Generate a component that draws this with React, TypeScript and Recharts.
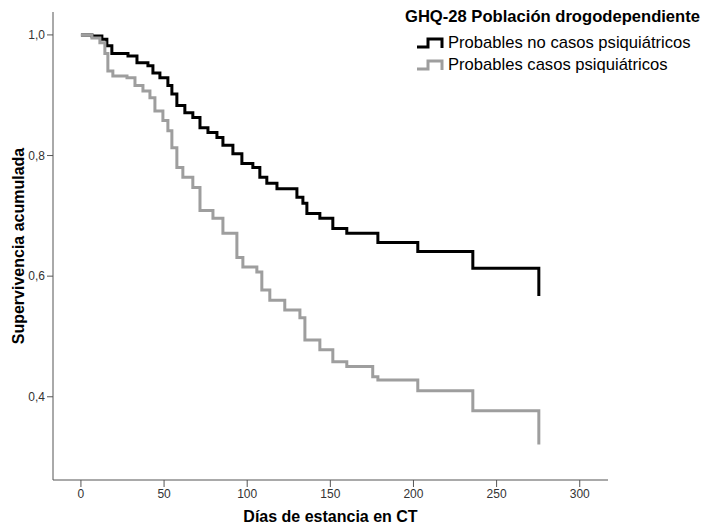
import { LineChart, Line, XAxis, YAxis, Legend } from "recharts";

// Días y supervivencia acumulada (Kaplan-Meier)
const noCasosDias = [0, 6.6, 12.6, 15.6, 18.6, 28.3, 33.7, 40.3, 43.3, 47.5, 52.3, 54.7, 57.7, 62.5, 67.3, 71.6, 76.4, 81.8, 85.4, 91.4, 96.8, 103.4, 107.6, 111.8, 117.9, 129.9, 133.5, 135.9, 143.7, 151.5, 159.9, 178.6, 202.6, 235.7, 275.4];
const noCasosSurv = [1.0, 0.998, 0.993, 0.982, 0.969, 0.965, 0.954, 0.949, 0.937, 0.929, 0.916, 0.902, 0.883, 0.871, 0.863, 0.846, 0.838, 0.83, 0.817, 0.803, 0.787, 0.78, 0.764, 0.754, 0.745, 0.731, 0.721, 0.704, 0.696, 0.679, 0.671, 0.656, 0.641, 0.613, 0.567];

const casosDias = [0, 6.6, 11.4, 14.4, 16.2, 19.2, 27.7, 32.5, 37.3, 41.5, 44.5, 49.3, 52.3, 54.7, 57.7, 61.3, 67.3, 71.6, 79.4, 85.4, 93.8, 97.4, 105.8, 108.8, 113.6, 122.6, 131.7, 134.7, 143.7, 151.5, 159.9, 175.5, 178.6, 202.6, 235.7, 275.4];
const casosSurv = [1.0, 0.995, 0.987, 0.969, 0.94, 0.932, 0.929, 0.916, 0.907, 0.896, 0.874, 0.858, 0.841, 0.813, 0.78, 0.764, 0.747, 0.709, 0.696, 0.671, 0.631, 0.615, 0.607, 0.577, 0.56, 0.544, 0.531, 0.494, 0.478, 0.458, 0.45, 0.433, 0.428, 0.41, 0.377, 0.321];

const xTicks = [0, 50, 100, 150, 200, 250, 300];
const yTicks = [0.4, 0.6, 0.8, 1.0];

const series = [
  { name: "Probables no casos psiquiátricos", color: "#000000", dias: noCasosDias, surv: noCasosSurv },
  { name: "Probables casos psiquiátricos", color: "#9e9e9e", dias: casosDias, surv: casosSurv },
];

const font = '"Liberation Sans", Arial, Helvetica, sans-serif';

const LegendBox = () => (
  <div style={{ fontFamily: font, color: "#000" }}>
    <div style={{ fontWeight: "bold", fontSize: 16.6, textAlign: "right", lineHeight: "22px", marginBottom: 4 }}>
      GHQ-28 Población drogodependiente
    </div>
    {series.map((s) => (
      <div key={s.name} style={{ display: "flex", alignItems: "center", paddingLeft: 17, height: 22, fontSize: 16.6 }}>
        <svg width={28} height={12} style={{ marginRight: 3 }}>
          <path d="M0,10 H11 V2 H25 V11" fill="none" stroke={s.color} strokeWidth={3} />
        </svg>
        <span>{s.name}</span>
      </div>
    ))}
  </div>
);

export default function App() {
  return (
    <div style={{ position: "absolute", left: 0, top: 0, width: 703, height: 524, background: "#fff" }}>
      <LineChart width={703} height={524} margin={{ top: 12, right: 95, bottom: 0, left: 0 }}>
        <XAxis
          type="number"
          dataKey="dia"
          domain={[-16.8, 317]}
          ticks={xTicks}
          allowDataOverflow
          height={44}
          tickSize={7}
          stroke="#555"
          tick={{ fill: "#333", fontSize: 12, fontFamily: font }}
          label={{ value: "Días de estancia en CT", position: "insideBottom", offset: 2, style: { fontFamily: font, fontWeight: "bold", fontSize: 16, fill: "#000" } }}
        />
        <YAxis
          type="number"
          dataKey="surv"
          domain={[0.262, 1.038]}
          ticks={yTicks}
          allowDataOverflow
          width={53}
          tickSize={6}
          stroke="#555"
          tickFormatter={(v: number) => v.toFixed(1).replace(".", ",")}
          tick={{ fill: "#333", fontSize: 12, fontFamily: font }}
          label={{ value: "Supervivencia acumulada", angle: -90, position: "insideLeft", offset: 18, style: { textAnchor: "middle", fontFamily: font, fontWeight: "bold", fontSize: 16, fill: "#000" } }}
        />
        <Legend
          layout="vertical"
          verticalAlign="middle"
          align="center"
          content={() => <LegendBox />}
          wrapperStyle={{ position: "absolute", left: 400, top: 6, width: 300 }}
        />
        {series.map((s) => (
          <Line
            key={s.name}
            name={s.name}
            type="stepAfter"
            data={s.dias.map((d, i) => ({ dia: d, surv: s.surv[i] }))}
            dataKey="surv"
            stroke={s.color}
            strokeWidth={3}
            dot={false}
            activeDot={false}
            isAnimationActive={false}
          />
        ))}
      </LineChart>
    </div>
  );
}
